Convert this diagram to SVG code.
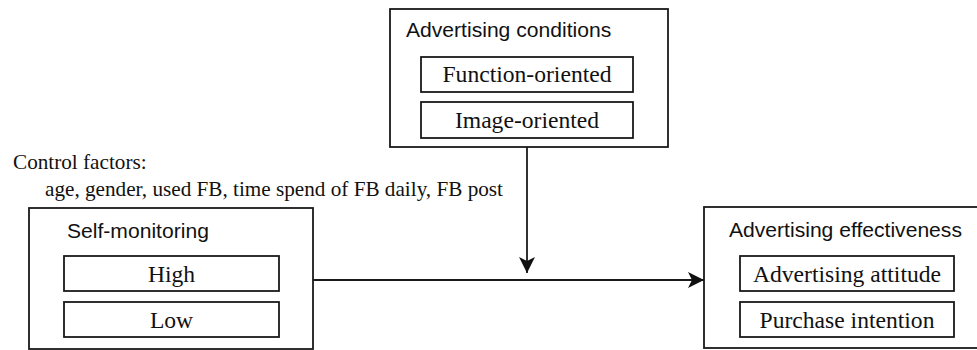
<svg xmlns="http://www.w3.org/2000/svg" width="977" height="350" viewBox="0 0 977 350">
<style>
.box{fill:#fff;stroke:#1a1a1a;stroke-width:1.8}
.ttl{font-family:'Liberation Sans',Arial,sans-serif;font-size:21.1px;fill:#111}
.itm{font-family:'Liberation Serif','Times New Roman','DejaVu Serif',serif;font-size:23.6px;fill:#111;text-anchor:middle}
.ctl{font-family:'Liberation Serif','Times New Roman','DejaVu Serif',serif;font-size:21.2px;fill:#111}
.ln{fill:none;stroke:#1a1a1a;stroke-width:1.8}
</style>
<defs>
<marker id="ah" viewBox="0 0 16 16" refX="16" refY="8" markerWidth="16" markerHeight="16" markerUnits="userSpaceOnUse" orient="auto">
<path d="M0,0 L16,8 L0,16 L4,8 Z" fill="#111"/>
</marker>
</defs>
<rect width="977" height="350" fill="#fff"/>
<g id="conditions">
<rect class="box" x="390" y="9" width="278" height="138"/>
<text class="ttl" x="406" y="37">Advertising conditions</text>
<rect class="box" x="421" y="57" width="212" height="35"/>
<text class="itm" x="527" y="82">Function-oriented</text>
<rect class="box" x="421" y="102" width="212" height="36"/>
<text class="itm" x="527" y="128">Image-oriented</text>
</g>
<g id="control">
<text class="ctl" x="13" y="169">Control factors:</text>
<text class="ctl" x="45" y="196">age, gender, used FB, time spend of FB daily, FB post</text>
</g>
<g id="selfmonitoring">
<rect class="box" x="29" y="208" width="284" height="141"/>
<text class="ttl" x="67" y="238">Self-monitoring</text>
<rect class="box" x="64" y="256" width="215" height="35"/>
<text class="itm" x="171.5" y="282">High</text>
<rect class="box" x="64" y="302" width="215" height="35"/>
<text class="itm" x="171.5" y="328">Low</text>
</g>
<g id="effectiveness">
<rect class="box" x="704" y="207" width="290" height="141"/>
<text class="ttl" x="729" y="237">Advertising effectiveness</text>
<rect class="box" x="740" y="256" width="214" height="35"/>
<text class="itm" x="847" y="282">Advertising attitude</text>
<rect class="box" x="740" y="302" width="214" height="35"/>
<text class="itm" x="847" y="328">Purchase intention</text>
</g>
<g id="connectors">
<line class="ln" x1="313" y1="280" x2="704" y2="280" marker-end="url(#ah)"/>
<line class="ln" x1="527" y1="147" x2="527" y2="273" marker-end="url(#ah)"/>
</g>
</svg>
